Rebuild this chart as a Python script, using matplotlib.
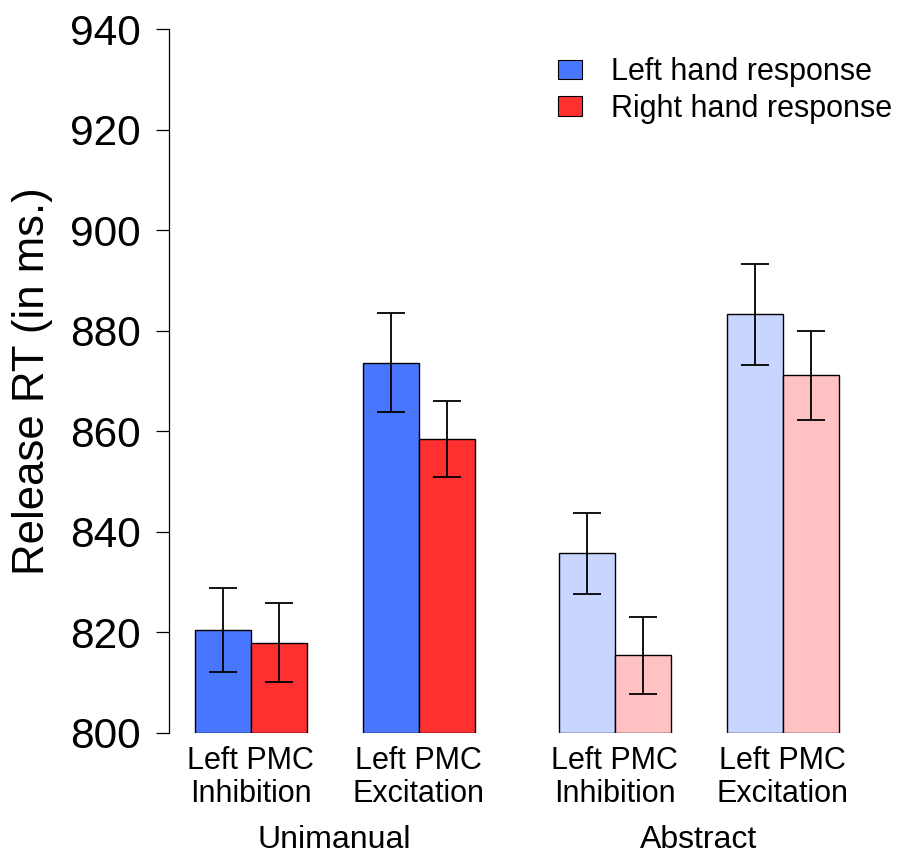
import matplotlib
matplotlib.use("Agg")
import matplotlib.pyplot as plt
from matplotlib.patches import Patch
from matplotlib.transforms import blended_transform_factory

plt.rcParams['font.family'] = ['Liberation Sans', 'DejaVu Sans']

# ---- data ----
groups = ["Unimanual", "Abstract"]
conditions = ["Left PMC\nInhibition", "Left PMC\nExcitation",
              "Left PMC\nInhibition", "Left PMC\nExcitation"]
left_hand = [820.4, 873.6, 835.7, 883.3]
left_err = [8.4, 9.85, 8.0, 10.05]
right_hand = [817.9, 858.5, 815.4, 871.1]
right_err = [7.85, 7.6, 7.6, 8.8]
series_names = ["Left hand response", "Right hand response"]
yticks = [800, 820, 840, 860, 880, 900, 920, 940]

blue = "#4876FF"
red = "#FF3030"
blue_light = "#C8D6FF"
red_light = "#FFC1C1"

W, H = 899, 852
fig = plt.figure(figsize=(W / 100, H / 100), dpi=100)
ax_left_px, ax_bottom_px, ax_top_px = 169.3, 732.7, 29.3
ax = fig.add_axes([ax_left_px / W, (H - ax_bottom_px) / H,
                   (W - ax_left_px) / W, (ax_bottom_px - ax_top_px) / H])

bar_px = 56.0
x0 = 0.05
ax.set_xlim(x0, x0 + (W - ax_left_px) / bar_px)
ax.set_ylim(800, 940)

pair_centers = [1.5, 4.5, 8.0, 11.0]
fills_left = [blue, blue, blue_light, blue_light]
fills_right = [red, red, red_light, red_light]

for i, c in enumerate(pair_centers):
    ax.bar(c - 0.5, left_hand[i] - 800, bottom=800, width=1.0, color=fills_left[i],
           edgecolor="black", linewidth=1.0, zorder=2)
    ax.bar(c + 0.5, right_hand[i] - 800, bottom=800, width=1.0, color=fills_right[i],
           edgecolor="black", linewidth=1.0, zorder=2)
    ax.errorbar([c - 0.5], [left_hand[i]], yerr=[left_err[i]], fmt="none",
                ecolor="black", elinewidth=1.3, capsize=10, capthick=1.3, zorder=3)
    ax.errorbar([c + 0.5], [right_hand[i]], yerr=[right_err[i]], fmt="none",
                ecolor="black", elinewidth=1.3, capsize=10, capthick=1.3, zorder=3)

# axes styling (R-like)
for s in ["top", "right", "bottom"]:
    ax.spines[s].set_visible(False)
ax.spines["left"].set_linewidth(0.9)
ax.spines["left"].set_position(("data", x0))
ax.set_yticks(yticks)
ax.set_yticklabels([str(v) for v in yticks], fontsize=30.5)
ax.tick_params(axis="y", length=9.5, width=0.9, pad=11)

ax.set_xticks(pair_centers)
ax.set_xticklabels(conditions, fontsize=22, linespacing=1.12)
ax.tick_params(axis="x", length=0, pad=9.5)

trans = blended_transform_factory(ax.transData, fig.transFigure)
group_centers = [(pair_centers[0] + pair_centers[1]) / 2,
                 (pair_centers[2] + pair_centers[3]) / 2]
for g, gc in zip(groups, group_centers):
    ax.text(gc, (H - 848) / H, g, transform=trans, ha="center", va="baseline",
            fontsize=23)

fig.text(33 / W, (H - 381) / H, "Release RT (in ms.)", rotation=90, ha="center",
         va="center", fontsize=31.5)

handles = [Patch(facecolor=blue, edgecolor="black", linewidth=0.8),
           Patch(facecolor=red, edgecolor="black", linewidth=0.8)]
fig.legend(handles, series_names, loc="upper left",
           bbox_to_anchor=(546 / W, (H - 45) / H), frameon=False, fontsize=22,
           handlelength=0.78, handleheight=0.62, handletextpad=0.95,
           labelspacing=0.22, borderaxespad=0)

fig.savefig("out.png", dpi=100)
